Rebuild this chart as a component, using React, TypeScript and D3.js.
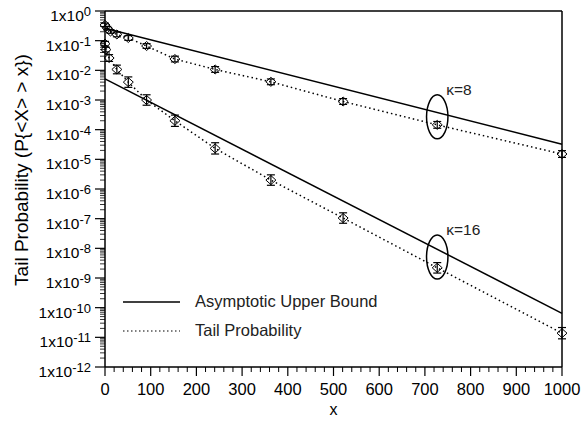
import React from "react";
import * as d3 from "d3";

// ---- data ----
const xK8 = [0, 5, 12, 26, 51, 91, 153, 241, 363, 521, 727, 1000];
const tailK8 = [0.339, 0.263, 0.204, 0.162, 0.123, 0.066, 0.024, 0.0107, 0.0041, 8.9e-4, 1.45e-4, 1.51e-5];
const errK8 = [1.15, 1.15, 1.15, 1.2, 1.2, 1.2, 1.25, 1.25, 1.25, 1.25, 1.3, 1.3];

const xK16 = [0, 2, 9, 26, 51, 91, 153, 241, 363, 521, 727, 1000];
const tailK16 = [0.079, 0.05, 0.026, 0.0107, 0.004, 1.0e-3, 2.0e-4, 2.34e-5, 2.0e-6, 1.05e-7, 2.2e-9, 1.38e-11];
const errK16 = [1.2, 1.2, 1.3, 1.4, 1.5, 1.5, 1.55, 1.55, 1.5, 1.5, 1.5, 1.55];

const boundX = [0, 1000];
const boundK8 = [0.263, 3.24e-5];
const boundK16 = [5.13e-3, 6.46e-11];

const xTicks = [0, 100, 200, 300, 400, 500, 600, 700, 800, 900, 1000];
const yExponents = [0, -1, -2, -3, -4, -5, -6, -7, -8, -9, -10, -11, -12];

const annotations = [
  { label: "\u03BA=8", x: 727, y: 2.7e-4 },
  { label: "\u03BA=16", x: 727, y: 5.1e-9 },
];

const legendItems = [
  { label: "Asymptotic Upper Bound", dash: "" },
  { label: "Tail Probability", dash: "1.5 2.5" },
];

const W = 582;
const H = 427;
const left = 105;
const right = 562;
const top = 11;
const bottom = 367;

export default function App() {
  const x = d3.scaleLinear().domain([0, 1000]).range([left, right]);
  const y = d3.scaleLog().domain([1e-12, 1]).range([bottom, top]);
  const font = "'Liberation Sans', Arial, sans-serif";

  const line = d3
    .line<[number, number]>()
    .x((d) => x(d[0]))
    .y((d) => y(d[1]));

  const minorX = d3.range(0, 1001, 20).filter((v) => v % 100 !== 0);
  const minorY: number[] = [];
  for (let e = -12; e < 0; e++) {
    for (let m = 2; m <= 9; m++) minorY.push(m * Math.pow(10, e));
  }

  const series = [
    { xs: xK8, ys: tailK8, err: errK8 },
    { xs: xK16, ys: tailK16, err: errK16 },
  ];

  return (
    <svg
      width={W}
      height={H}
      style={{ position: "absolute", left: 0, top: 0, background: "#fff" }}
      fontFamily={font}
    >
      {/* bounds */}
      {[boundK8, boundK16].map((b, i) => (
        <path
          key={"b" + i}
          d={line(boundX.map((v, j) => [v, b[j]]) as [number, number][]) || ""}
          fill="none"
          stroke="#000"
          strokeWidth={1.5}
        />
      ))}
      {/* tail prob dotted */}
      {series.map((s, i) => (
        <path
          key={"t" + i}
          d={line(s.xs.map((v, j) => [v, s.ys[j]]) as [number, number][]) || ""}
          fill="none"
          stroke="#000"
          strokeWidth={1.5}
          strokeDasharray="1.5 3"
        />
      ))}
      {/* markers with error bars */}
      {series.map((s, i) =>
        s.xs.map((v, j) => {
          const cx = x(v);
          const cy = y(s.ys[j]);
          const y1 = y(s.ys[j] * s.err[j]);
          const y2 = y(s.ys[j] / s.err[j]);
          return (
            <g key={"m" + i + "-" + j} stroke="#000" strokeWidth={1.2} fill="none">
              <path d={`M${cx - 5},${cy} L${cx},${cy - 4.5} L${cx + 5},${cy} L${cx},${cy + 4.5} Z`} strokeWidth={1} />
              <line x1={cx} x2={cx} y1={y1} y2={y2} />
              <line x1={cx - 4} x2={cx + 4} y1={y1} y2={y1} />
              <line x1={cx - 4} x2={cx + 4} y1={y2} y2={y2} />
            </g>
          );
        })
      )}
      {/* annotations */}
      {annotations.map((a, i) => (
        <g key={"a" + i}>
          <ellipse cx={x(a.x)} cy={y(a.y)} rx={10.7} ry={22} fill="none" stroke="#000" strokeWidth={1.5} />
          <text x={x(a.x) + 9} y={y(a.y) - 22} fontSize={15.5} fill="#222">
            {a.label}
          </text>
        </g>
      ))}
      {/* frame */}
      <line x1={left} x2={right} y1={top} y2={top} stroke="#000" strokeWidth={1.5} />
      <line x1={right} x2={right} y1={top} y2={bottom} stroke="#000" strokeWidth={1.5} />
      {/* x axis */}
      <line x1={left} x2={right} y1={bottom} y2={bottom} stroke="#000" strokeWidth={1.5} />
      {xTicks.map((t) => (
        <g key={"xt" + t}>
          <line x1={x(t)} x2={x(t)} y1={bottom} y2={bottom + 9} stroke="#000" strokeWidth={1.2} />
          <text x={x(t)} y={bottom + 28} fontSize={16.5} textAnchor="middle">
            {t}
          </text>
        </g>
      ))}
      {minorX.map((t) => (
        <line key={"xm" + t} x1={x(t)} x2={x(t)} y1={bottom} y2={bottom + 5} stroke="#000" strokeWidth={1} />
      ))}
      <text x={(left + right) / 2} y={415} fontSize={16} textAnchor="middle">
        x
      </text>
      {/* y axis */}
      <line x1={left} x2={left} y1={top} y2={bottom} stroke="#000" strokeWidth={1.5} />
      {yExponents.map((e) => {
        const v = Math.pow(10, e);
        return (
          <g key={"yt" + e}>
            <line x1={left - 10} x2={left} y1={y(v)} y2={y(v)} stroke="#000" strokeWidth={1.2} />
            <text x={91} y={y(v) + 10} fontSize={15.5} textAnchor="end">
              <tspan>1x10</tspan>
              <tspan dy={-5} fontSize={13}>
                {String(e)}
              </tspan>
            </text>
          </g>
        );
      })}
      {minorY.map((v, i) => (
        <line key={"ym" + i} x1={left - 5} x2={left} y1={y(v)} y2={y(v)} stroke="#000" strokeWidth={0.8} />
      ))}
      <text
        transform={`translate(28,170) rotate(-90)`}
        fontSize={19}
        textAnchor="middle"
      >
        {"Tail Probability (P{<X> > x})"}
      </text>
      {/* legend */}
      {legendItems.map((l, i) => (
        <g key={"l" + i}>
          <line
            x1={123}
            x2={180}
            y1={302 + i * 29}
            y2={302 + i * 29}
            stroke="#000"
            strokeWidth={l.dash ? 1.2 : 1.5}
            strokeDasharray={l.dash || undefined}
          />
          <text x={195} y={307 + i * 29} fontSize={16.5} fill="#222">
            {l.label}
          </text>
        </g>
      ))}
    </svg>
  );
}
